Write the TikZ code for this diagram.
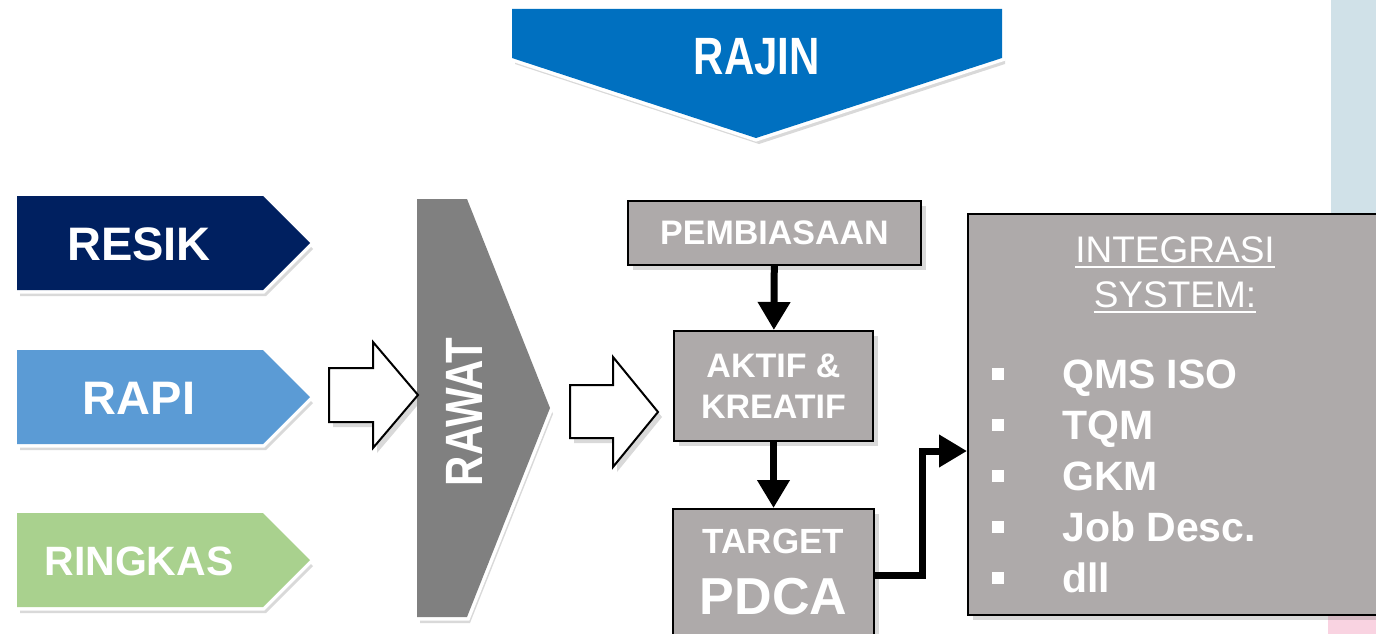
\documentclass[tikz,border=0pt]{standalone}
\usepackage{fontspec}
\setmainfont{Liberation Sans}
\usetikzlibrary{arrows.meta,positioning,shadows,calc}

\definecolor{rajinblue}{HTML}{0070C0}
\definecolor{resiknavy}{HTML}{002060}
\definecolor{rapiblue}{HTML}{5B9BD5}
\definecolor{ringkasgreen}{HTML}{A9D18E}
\definecolor{rawatgray}{HTML}{808080}
\definecolor{boxgray}{HTML}{AEAAAA}
\definecolor{stripblue}{HTML}{D0E1E8}
\definecolor{strippink}{HTML}{F9D3E1}
\newcommand{\fsz}[2]{\fontsize{#1}{#2}\selectfont}

\begin{document}
\begin{tikzpicture}[
  x=1pt,y=-1pt,
  chev/.style={draw=white,line width=7pt,line join=miter,fill=#1,postaction={fill=#1},
               drop shadow={shadow xshift=3pt,shadow yshift=-6pt,opacity=.3}},
  lbl/.style={text=white,inner sep=0pt},
  stepbox/.style={draw=black,line width=2pt,fill=boxgray,
                  drop shadow={shadow xshift=5pt,shadow yshift=-5pt,opacity=.3}},
  hollow/.style={draw=black,line width=2pt,fill=white,line join=miter,
                 drop shadow={shadow xshift=4pt,shadow yshift=-5pt,opacity=.3}},
  flow/.style={line width=7pt,-{Triangle[length=28pt,width=31pt]}}
]
\clip (0,0) rectangle (1376,634);
\useasboundingbox (0,0) rectangle (1376,634);

% side strips
\fill[stripblue] (1331,0) rectangle (1376,214);
\fill[strippink] (1328,615) rectangle (1376,634);

% rajin
\path[chev=rajinblue] (512,9) -- (1002,9) -- (1002,58) -- (756,138)
  -- (512,58) -- cycle;
\node[lbl,font=\bfseries\fsz{42}{48},yscale=1.25] (rajin) at (757,57) {RAJIN};

% left chevrons
\foreach \nm/\txt/\col/\top/\sz in {resik/RESIK/resiknavy/196/47,
    rapi/RAPI/rapiblue/350/47,ringkas/RINGKAS/ringkasgreen/513/41}{
  \path[chev=\col] (17,\top) -- (263,\top) -- (310,\top+47)
    -- (263,\top+94) -- (17,\top+94) -- cycle;
  \node[lbl,font=\bfseries\fsz{\sz}{\sz}] (\nm) at (139,\top+48) {\txt};
}

% rawat
\path[chev=rawatgray] (417,199) -- (467,199) -- (550,408) -- (467,617)
  -- (417,617) -- cycle;
\node[lbl,font=\bfseries\fsz{42}{48},rotate=90,yscale=1.25] (rawat) at (464,412) {RAWAT};

% hollow arrows
\filldraw[hollow] (329,368) -- (373,368) -- (373,342) -- (418,395) -- (373,448)
  -- (373,422) -- (329,422) -- cycle;
\filldraw[hollow] (570,385) -- (613,385) -- (613,357) -- (658,412) -- (613,467)
  -- (613,438) -- (570,438) -- cycle;

% middle column
\node[stepbox,minimum width=293,minimum height=64] (pem) at (774.5,233) {};
\node[lbl,font=\bfseries\fsz{34}{40}] (pemtxt) at (pem) {PEMBIASAAN};
\node[stepbox,minimum width=199,minimum height=110] (aktif) at (773.5,386) {};
\node[lbl,font=\bfseries\fsz{34}{41},align=center] (aktiftxt) at (aktif) {AKTIF \&\\KREATIF};
\node[stepbox,minimum width=201,minimum height=152,anchor=north] (target) at (773.5,508) {};
\node[lbl,font=\bfseries\fsz{35}{40}] (tgtxt) at (773.5,541) {TARGET};
\node[lbl,font=\bfseries\fsz{52}{56}] (pdca) at (773.5,597) {PDCA};

\draw[flow] (pem) -- (aktif);
\draw[flow] (aktif) -- (target);

% integrasi box
\node[stepbox,minimum width=427,minimum height=401] (integ) at (1181.5,414.5) {};
\node[lbl,font=\fsz{37}{44},anchor=base] (ttl1) at (1175,262) {INTEGRASI};
\node[lbl,font=\fsz{37}{44},anchor=base] (ttl2) at (1175,307) {SYSTEM:};
\draw[white,line width=1.6pt] ([yshift=-5pt]ttl1.base west) -- ([yshift=-5pt]ttl1.base east);
\draw[white,line width=1.6pt] ([yshift=-5pt]ttl2.base west) -- ([yshift=-5pt]ttl2.base east);
\foreach \txt [count=\i] in {QMS ISO,TQM,GKM,Job Desc.,dll}{
  \fill[white] (992,{388+(\i-1)*51-20}) rectangle ++(12,12);
  \node[lbl,font=\bfseries\fsz{41}{46},anchor=base west] (sys\i) at (1062,{388+(\i-1)*51}) {\txt};
}

\coordinate (tgout) at (874,575);
\coordinate (bend) at (922,451);
\draw[flow] (tgout) -| (bend) -- (integ.west |- bend);
\end{tikzpicture}
\end{document}
